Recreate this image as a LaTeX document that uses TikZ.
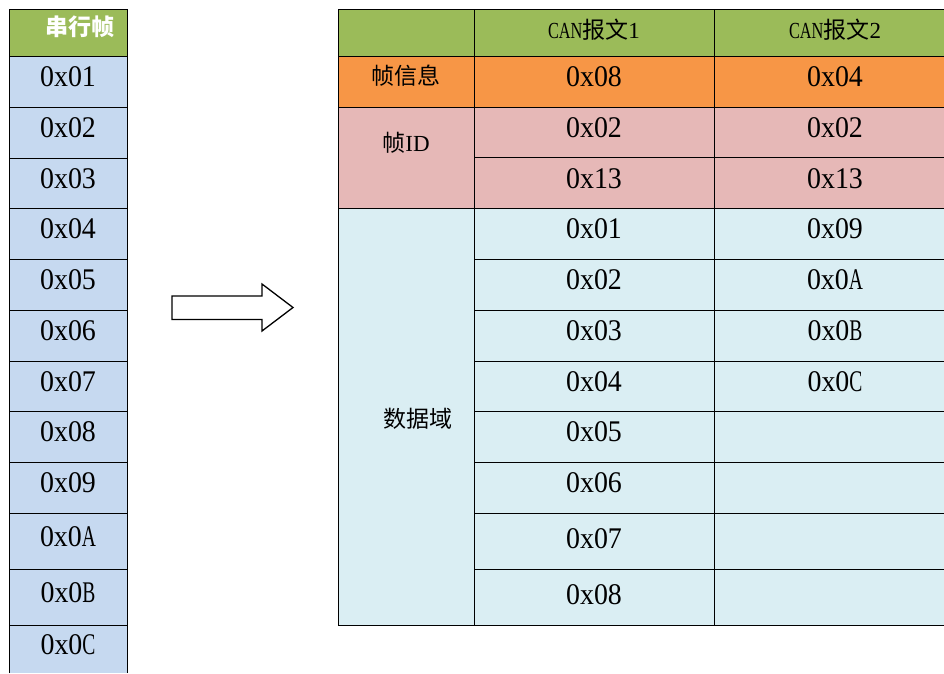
\documentclass[tikz,border=0pt]{standalone}
\usepackage{fontspec}
\usepackage{graphicx}
\newfontfamily\serifv{Liberation Serif}
\newfontfamily\cjk{Noto Sans CJK SC}
\newcommand\hwl[1]{\scalebox{0.7}[1]{#1}}
\newcommand\vtxt[1]{\scalebox{0.93}[1]{#1}}
\definecolor{hdrgreen}{HTML}{9BBB59}
\definecolor{leftblue}{HTML}{C6D9F0}
\definecolor{infoorange}{HTML}{F79646}
\definecolor{idpink}{HTML}{E6B8B7}
\definecolor{datablue}{HTML}{DAEEF3}
\tikzset{
  val/.style={anchor=base, inner sep=0pt, font=\fontsize{30}{32}\selectfont\serifv},
  hdr/.style={anchor=base, inner sep=0pt, font=\fontsize{23}{25}\selectfont\serifv},
  lab/.style={inner sep=0pt, font=\fontsize{23}{25}\selectfont\cjk},
  gridline/.style={line width=1pt, draw=black},
}
\begin{document}
\begin{tikzpicture}[x=1pt,y=-1pt]
\useasboundingbox (0,0) rectangle (944,673);
% fills
\fill[hdrgreen] (9,9) rectangle (127,56);
\fill[leftblue] (9,56) rectangle (127,673);
\fill[hdrgreen] (338,9) rectangle (944,56);
\fill[infoorange] (338,56) rectangle (944,107);
\fill[idpink] (338,107) rectangle (944,208);
\fill[datablue] (338,208) rectangle (944,625);
% left column lines
\draw[gridline] (9,673) -- (9,9) -- (127,9) -- (127,673);
\foreach \y in {56,107,158,208,259,310,361,411,462,513,569,625}
  \draw[gridline] (9,\y) -- (127,\y);
% right table lines
\draw[gridline] (944,9) -- (338,9) -- (338,625) -- (944,625);
\draw[gridline] (474,9) -- (474,625);
\draw[gridline] (714,9) -- (714,625);
\foreach \y in {56,107,208}
  \draw[gridline] (338,\y) -- (944,\y);
\foreach \y in {157,259,310,361,411,462,513,569}
  \draw[gridline] (474,\y) -- (944,\y);
% arrow
\draw[line width=1.3pt, fill=white, line join=miter]
  (172,296) -- (262,296) -- (262,284) -- (293,307.5) -- (262,331) -- (262,319.5) -- (172,319.5) -- cycle;
% left column texts
\node[lab, text=white, font=\fontsize{23}{25}\selectfont\cjk\bfseries] (lhead) at (80,27) {串行帧};
\foreach \t/\b [count=\i] in {0x01/86,0x02/137,0x03/188,0x04/238,0x05/289,0x06/340,0x07/391,0x08/441,0x09/492,{0x0\hwl{A}}/546,{0x0\hwl{B}}/602,{0x0\hwl{C}}/654}
  \node[val] (l\i) at (68,\b) {\vtxt{\t}};
% right header
\node[hdr] (c1) at (594,38.5) {\scalebox{0.71}[1]{CAN}{\cjk 报文}1};
\node[hdr] (c2) at (835,38.5) {\scalebox{0.71}[1]{CAN}{\cjk 报文}2};
% row labels
\node[lab] (info) at (406,76) {帧信息};
\node[lab] (fid) at (406,143) {帧\serifv ID};
\node[lab] (data) at (418,419) {数据域};
% values column 2
\foreach \t/\b [count=\i] in {0x08/86,0x02/137,0x13/188,0x01/238,0x02/289,0x03/340,0x04/391,0x05/441,0x06/492,0x07/548,0x08/604}
  \node[val] (a\i) at (594,\b) {\vtxt{\t}};
% values column 3
\foreach \t/\b [count=\i] in {0x04/86,0x02/137,0x13/188,0x09/238,{0x0\hwl{A}}/289,{0x0\hwl{B}}/340,{0x0\hwl{C}}/391}
  \node[val] (b\i) at (835,\b) {\vtxt{\t}};
\end{tikzpicture}
\end{document}
